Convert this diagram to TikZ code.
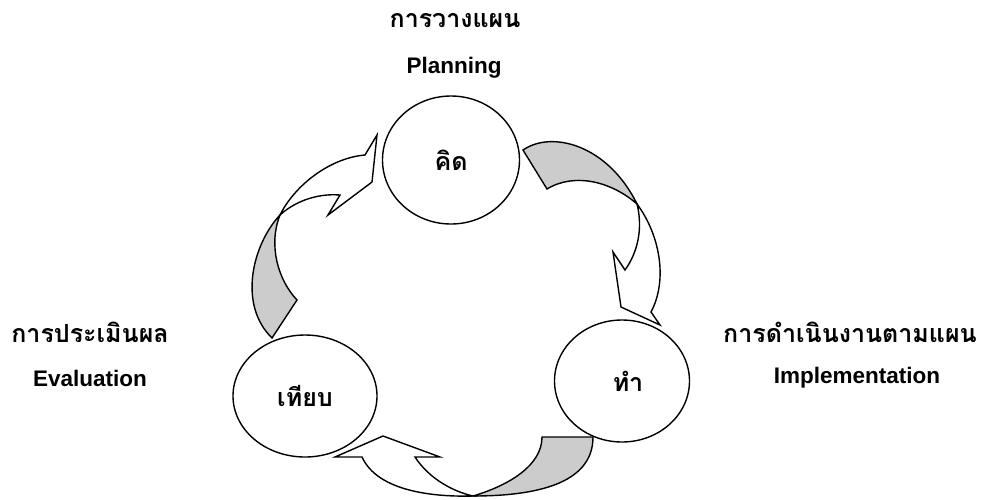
\documentclass[tikz,border=0pt]{standalone}
\usepackage{fontspec}
\setmainfont{Liberation Sans}
\newfontfamily\thaifont[Script=Thai]{Loma}
\usepackage{tikz}
\usetikzlibrary{positioning,shapes.geometric}
\definecolor{backc}{HTML}{CCCCCC}
\definecolor{linec}{HTML}{000000}
\tikzset{
  stage/.style={draw=linec,line width=1.4pt,ellipse,inner sep=0pt,
    font=\thaifont\bfseries\fontsize{25}{30}\selectfont},
  thtitle/.style={font=\thaifont\bfseries\fontsize{25}{30}\selectfont},
  entitle/.style={font=\bfseries\fontsize{22.5}{27}\selectfont},
  frontside/.style={draw=linec,fill=white,line width=1.4pt,line join=miter},
  backside/.style={draw=linec,fill=backc,line width=1.4pt,line join=miter}
}

\begin{document}
\begin{tikzpicture}[x=1pt,y=-1pt]
  \useasboundingbox (0,0) rectangle (982,499);
  % curved arrow: think -> do
  \draw[backside] (523,150) .. controls (552,130) and (608,145) .. (637,204)
    .. controls (612,182) and (575,172) .. (547,189) -- cycle;
  \draw[frontside] (637,204) .. controls (660,235) and (668,280) .. (651,312)
    -- (660,325) -- (621,307) -- (613,252) -- (625,270)
    .. controls (638,252) and (643,228) .. (637,204) -- cycle;
  % curved arrow: do -> compare
  \draw[backside] (542,437) -- (593,437) .. controls (593,480) and (545,496) .. (473,496)
    .. controls (510,485) and (542,465) .. (542,437) -- cycle;
  \draw[frontside] (473,496) .. controls (435,497) and (378,492) .. (362,457)
    -- (335,457) -- (383,436) -- (440,457) -- (415,457)
    .. controls (430,480) and (455,492) .. (473,496) -- cycle;
  % curved arrow: compare -> think
  \draw[backside] (280,215) .. controls (252,245) and (238,305) .. (272,338)
    -- (297,300) .. controls (278,280) and (268,245) .. (280,215) -- cycle;
  \draw[frontside] (280,215) .. controls (295,185) and (330,158) .. (365,155)
    -- (377,135) -- (372,182) -- (328,215) -- (340,195)
    .. controls (315,193) and (293,203) .. (280,215) -- cycle;

  \node[stage,minimum width=137pt,minimum height=128pt] (think) at (451,160) {คิด};
  \node[stage,minimum width=135pt,minimum height=122pt] (do) at (622,381) {\hspace*{12pt}ทำ};
  \node[stage,minimum width=144pt,minimum height=122pt] (compare) at (305,396) {เทียบ};

  \node[thtitle] (planth) at (455,21) {การวางแผน};
  \node[entitle] (planen) at (454,68) {Planning};
  \node[thtitle] (evalth) at (90,332) {การประเมินผล};
  \node[entitle] (evalen) at (90,378) {Evaluation};
  \node[thtitle] (implth) at (850,332) {การดำเนินงานตามแผน};
  \node[entitle] (implen) at (857,378) {Implementation};
\end{tikzpicture}
\end{document}
